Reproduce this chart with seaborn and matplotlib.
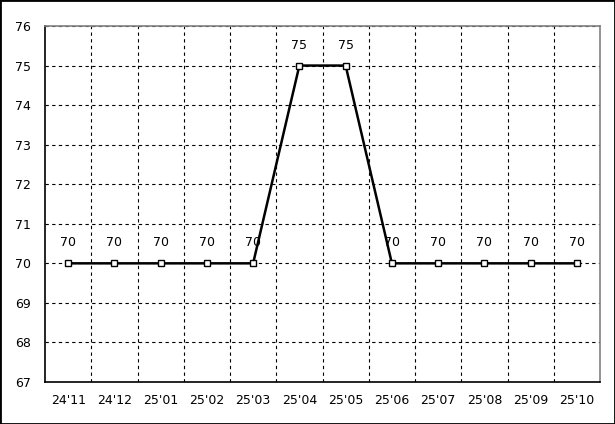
import matplotlib
matplotlib.use("Agg")
import matplotlib.pyplot as plt
import numpy as np
import pandas as pd
import seaborn as sns
from matplotlib.patches import Rectangle
from matplotlib.ticker import FixedLocator

months = ["24'11", "24'12", "25'01", "25'02", "25'03", "25'04",
          "25'05", "25'06", "25'07", "25'08", "25'09", "25'10"]
values = [70, 70, 70, 70, 70, 75, 75, 70, 70, 70, 70, 70]
y_ticks = [67, 68, 69, 70, 71, 72, 73, 74, 75, 76]

df = pd.DataFrame({"pos": np.arange(len(months)), "value": values})

sns.set_theme(style="white")
plt.rcParams["font.family"] = ["DejaVu Sans"]

fig = plt.figure(figsize=(6.15, 4.24), dpi=100)
ax = fig.add_axes([45 / 615, 42 / 424, 555 / 615, 356 / 424])

sns.lineplot(data=df, x="pos", y="value", ax=ax, color="black", linewidth=1.8,
             marker="s", markersize=5, markerfacecolor="white",
             markeredgecolor="black", markeredgewidth=1, zorder=3)

# value labels above each point
for x, v in zip(df["pos"], values):
    ax.annotate(str(v), (x, v), xytext=(0, 10), textcoords="offset points",
                ha="center", va="bottom", fontsize=9, color="black")

ax.set_xlim(-0.5, len(months) - 0.5)
ax.set_ylim(67, 76)
ax.set_xticks(df["pos"])
ax.set_xticklabels(months)
ax.set_yticks(y_ticks)
ax.xaxis.set_minor_locator(FixedLocator(np.arange(0.5, len(months) - 1, 1.0)))
ax.tick_params(axis="both", which="both", length=0, labelsize=9, colors="black")
ax.tick_params(axis="x", pad=9)
ax.tick_params(axis="y", pad=10)
ax.set_xlabel("")
ax.set_ylabel("")

ax.grid(False)
ax.grid(True, axis="y", which="major", color="black", linestyle=(0, (3, 3)), linewidth=0.8)
ax.grid(True, axis="x", which="minor", color="black", linestyle=(0, (3, 3)), linewidth=0.8)

for side in ["left", "bottom"]:
    ax.spines[side].set_color("black")
    ax.spines[side].set_linewidth(1.2)
for side in ["top", "right"]:
    ax.spines[side].set_color("#808080")
    ax.spines[side].set_linewidth(1.2)

fig.add_artist(Rectangle((0, 0), 1, 1, transform=fig.transFigure, fill=False,
                         edgecolor="black", linewidth=2))

fig.savefig("out.png", dpi=100, facecolor="white")
